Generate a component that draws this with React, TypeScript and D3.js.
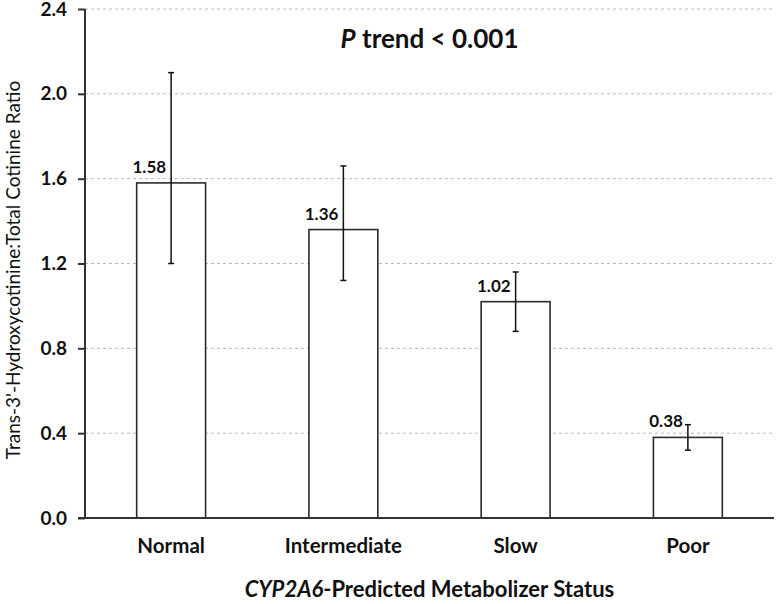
import React, { useEffect, useRef } from 'react';
import * as d3 from 'd3';

const categories = ['Normal', 'Intermediate', 'Slow', 'Poor'];
const means = [1.58, 1.36, 1.02, 0.38];
const lowerCI = [1.2, 1.12, 0.88, 0.32];
const upperCI = [2.1, 1.66, 1.16, 0.44];
const yTicks = [0, 0.4, 0.8, 1.2, 1.6, 2.0, 2.4];

const FONT = 'Lato, "Open Sans", sans-serif';

export default function App() {
  const ref = useRef<SVGSVGElement>(null);

  useEffect(() => {
    const svg = d3.select(ref.current);
    svg.selectAll('*').remove();

    const width = 778;
    const height = 604;
    const margin = { top: 9, right: 4, bottom: 86, left: 85 };
    const graphWidth = width - margin.left - margin.right;
    const graphHeight = height - margin.top - margin.bottom;

    const graph = svg
      .append('g')
      .attr('transform', `translate(${margin.left}, ${margin.top})`);

    const x = d3
      .scaleBand()
      .domain(categories)
      .range([0, graphWidth])
      .paddingInner(0.6)
      .paddingOuter(0.3);

    const y = d3.scaleLinear().domain([0, 2.4]).range([graphHeight, 0]);

    // dashed gridlines
    graph
      .selectAll('line.grid')
      .data(yTicks.filter(t => t > 0))
      .enter()
      .append('line')
      .attr('class', 'grid')
      .attr('x1', 0)
      .attr('x2', graphWidth)
      .attr('y1', d => y(d))
      .attr('y2', d => y(d))
      .attr('stroke', '#b8b8b8')
      .attr('stroke-width', 1)
      .attr('stroke-dasharray', '3,3');

    const data = categories.map((c, i) => ({
      name: c,
      mean: means[i],
      lo: lowerCI[i],
      hi: upperCI[i],
    }));

    // bars
    graph
      .selectAll('rect')
      .data(data)
      .enter()
      .append('rect')
      .attr('x', d => x(d.name)!)
      .attr('y', d => y(d.mean))
      .attr('width', x.bandwidth())
      .attr('height', d => graphHeight - y(d.mean))
      .attr('fill', '#fff')
      .attr('stroke', '#2b2b2b')
      .attr('stroke-width', 1.6);

    // error bars
    const cx = (d: { name: string }) => x(d.name)! + x.bandwidth() / 2;
    const err = graph.selectAll('g.err').data(data).enter().append('g');
    err
      .append('line')
      .attr('x1', cx)
      .attr('x2', cx)
      .attr('y1', d => y(d.lo))
      .attr('y2', d => y(d.hi))
      .attr('stroke', '#111')
      .attr('stroke-width', 1.5);
    ['lo', 'hi'].forEach(k => {
      err
        .append('line')
        .attr('x1', d => cx(d) - 3)
        .attr('x2', d => cx(d) + 3)
        .attr('y1', (d: any) => y(d[k]))
        .attr('y2', (d: any) => y(d[k]))
        .attr('stroke', '#111')
        .attr('stroke-width', 1.5);
    });

    // value labels
    graph
      .selectAll('text.val')
      .data(data)
      .enter()
      .append('text')
      .attr('x', d => cx(d) - 5)
      .attr('y', d => y(d.mean) - 10)
      .attr('text-anchor', 'end')
      .attr('font-family', FONT)
      .attr('font-weight', 'bold')
      .attr('font-size', 17)
      .attr('fill', '#111')
      .text(d => d.mean.toFixed(2));

    // axes
    const yAxis = d3
      .axisLeft(y)
      .tickValues(yTicks)
      .tickSize(7)
      .tickPadding(11)
      .tickFormat(d => (d as number).toFixed(1));
    const yAxisGroup = graph.append('g').call(yAxis);
    yAxisGroup.select('.domain').attr('stroke', '#333').attr('stroke-width', 2).attr('d', `M0,0V${graphHeight}`);
    yAxisGroup.selectAll('.tick line').attr('stroke', '#333').attr('stroke-width', 2);
    yAxisGroup
      .selectAll('.tick text')
      .attr('font-family', FONT)
      .attr('font-weight', 'bold')
      .attr('font-size', 19)
      .attr('fill', '#111');

    const xAxis = d3.axisBottom(x).tickSize(0).tickPadding(20);
    const xAxisGroup = graph
      .append('g')
      .attr('transform', `translate(0, ${graphHeight})`)
      .call(xAxis);
    xAxisGroup.select('.domain').attr('stroke', '#333').attr('stroke-width', 2).attr('d', `M-7,0H${graphWidth}`);
    xAxisGroup
      .selectAll('.tick text')
      .attr('font-family', FONT)
      .attr('font-weight', 'bold')
      .attr('font-size', 20.5)
      .attr('fill', '#111');

    // x title
    const xt = svg
      .append('text')
      .attr('x', margin.left + graphWidth / 2)
      .attr('y', 597)
      .attr('text-anchor', 'middle')
      .attr('font-family', FONT)
      .attr('font-weight', 'bold')
      .attr('font-size', 22)
      .attr('fill', '#111');
    xt.append('tspan').attr('font-style', 'italic').text('CYP2A6');
    xt.append('tspan').text('-Predicted Metabolizer Status');

    // y title
    svg
      .append('text')
      .attr('transform', `translate(20, 270) rotate(-90)`)
      .attr('text-anchor', 'middle')
      .attr('font-family', FONT)
      .attr('font-size', 19)
      .attr('fill', '#111')
      .text("Trans-3'-Hydroxycotinine:Total Cotinine Ratio");

    // annotation
    const pt = svg
      .append('text')
      .attr('x', margin.left + graphWidth / 2)
      .attr('y', 48)
      .attr('text-anchor', 'middle')
      .attr('font-family', FONT)
      .attr('font-weight', 'bold')
      .attr('font-size', 26)
      .attr('fill', '#111');
    pt.append('tspan').attr('font-style', 'italic').text('P');
    pt.append('tspan').text(' trend < 0.001');
  }, []);

  return (
    <svg
      ref={ref}
      width={778}
      height={604}
      style={{ position: 'absolute', left: 0, top: 0, background: '#fff' }}
    />
  );
}
